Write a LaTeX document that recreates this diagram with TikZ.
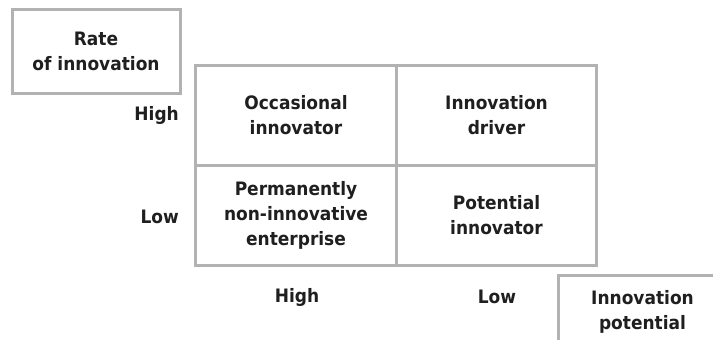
\documentclass[tikz,border=0pt]{standalone}
\usepackage{fontspec}
\setmainfont{DejaVu Sans}[FakeStretch=0.92]
\begin{document}
\begin{tikzpicture}[x=1pt,y=-1pt,
  every node/.style={font=\fontsize{18.5}{25}\selectfont\bfseries, text=black!88, align=center},
  frame/.style={draw=black!30, line width=3pt},
  cell/.style={frame, minimum width=200.5pt, minimum height=100pt, inner sep=0pt},
  axisbox/.style={frame, minimum width=168pt, minimum height=84pt, inner sep=0pt},
  tick/.style={inner sep=0pt}]
  \clip (0,0) rectangle (713,340);
  \fill[white] (0,0) rectangle (713,340);
  % axis titles
  \node[axisbox] (rate) at (96,51) {Rate\\of innovation};
  \node[axisbox, minimum height=72pt, anchor=north west] (pot) at (557,274) {Innovation\\potential};
  % the four quadrants
  \node[cell] (occ) at (296,115.5) {Occasional\\innovator};
  \node[cell] (drv) at (496.5,115.5) {Innovation\\driver};
  \node[cell] (perm) at (296,215.5) {Permanently\\non-innovative\\enterprise};
  \node[cell] (ptn) at (496.5,215.5) {Potential\\innovator};
  % axis levels
  \node[tick, anchor=east] (rhigh) at (179,115) {High};
  \node[tick, anchor=east] (rlow) at (179,217) {Low};
  \node[tick] (phigh) at (297,297) {High};
  \node[tick] (plow) at (497,297) {Low};
\end{tikzpicture}
\end{document}
